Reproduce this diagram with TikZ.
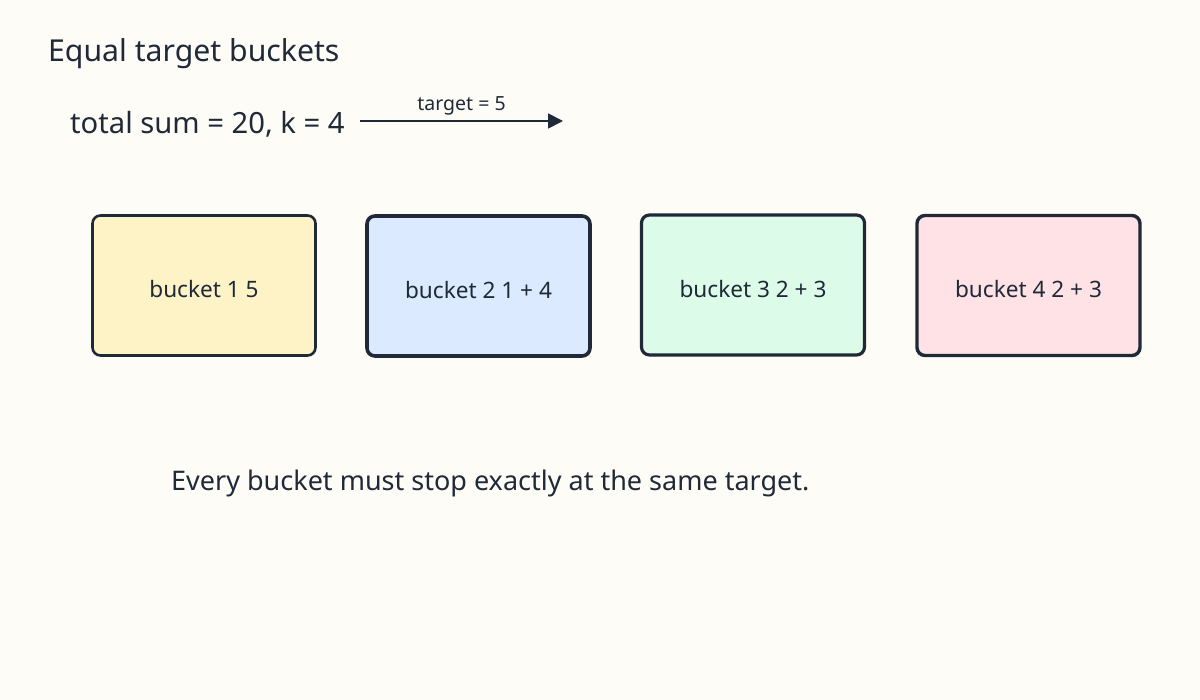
\documentclass[tikz,border=0pt]{standalone}
\usepackage{fontspec}
\setmainfont{Noto Sans}
\usetikzlibrary{arrows.meta}
\definecolor{bg}{HTML}{FDFCF7}
\definecolor{ink}{HTML}{1F2937}
\definecolor{fy}{HTML}{FEF3C7}
\definecolor{fb}{HTML}{DBEAFE}
\definecolor{fg}{HTML}{DCFCE9}
\definecolor{fp}{HTML}{FEE2E5}
\tikzset{
  bucket/.style={draw=ink, line width=2.6pt, rounded corners=8pt, minimum width=223pt, minimum height=140pt, inner sep=0pt, text=ink},
  blabel/.style={inner sep=0pt, text=ink, font=\fontsize{22.6}{26}\selectfont},
  txt/.style={inner sep=0pt, text=ink, anchor=west},
}
\begin{document}
\begin{tikzpicture}[x=1pt,y=-1pt]
\fill[bg] (0,0) rectangle (1200,700);
\useasboundingbox (0,0) rectangle (1200,700);
\node[txt, font=\fontsize{30.2}{34}\selectfont] (title) at (48,54) {Equal target buckets};
\node[txt, font=\fontsize{29.2}{33}\selectfont] (total) at (70,124) {total sum = 20, k = 4};
\coordinate (aend) at (563,121);
\draw[ink, line width=1.8pt, -{Triangle[length=15pt,width=15pt]}] (360,121) -- node[above=5pt, inner sep=0pt, font=\fontsize{19.5}{22}\selectfont, text=ink] (tlab) {target = 5} (aend);
\node[bucket, fill=fy] (b1) at (204,285.5) {};
\node[bucket, fill=fb, line width=3.6pt] (b2) at (478.5,286) {};
\node[bucket, fill=fg, line width=3.2pt] (b3) at (753,285) {};
\node[bucket, fill=fp, line width=3.4pt] (b4) at (1028.5,285.5) {};
\node[blabel] at ([yshift=-4pt]b1.center) {bucket 1 5};
\node[blabel] at ([yshift=-4pt]b2.center) {bucket 2 1 + 4};
\node[blabel] at ([yshift=-4pt]b3.center) {bucket 3 2 + 3};
\node[blabel] at ([yshift=-4pt]b4.center) {bucket 4 2 + 3};
\node[txt, font=\fontsize{27}{31}\selectfont] (note) at (171,483) {Every bucket must stop exactly at the same target.};
\end{tikzpicture}
\end{document}
